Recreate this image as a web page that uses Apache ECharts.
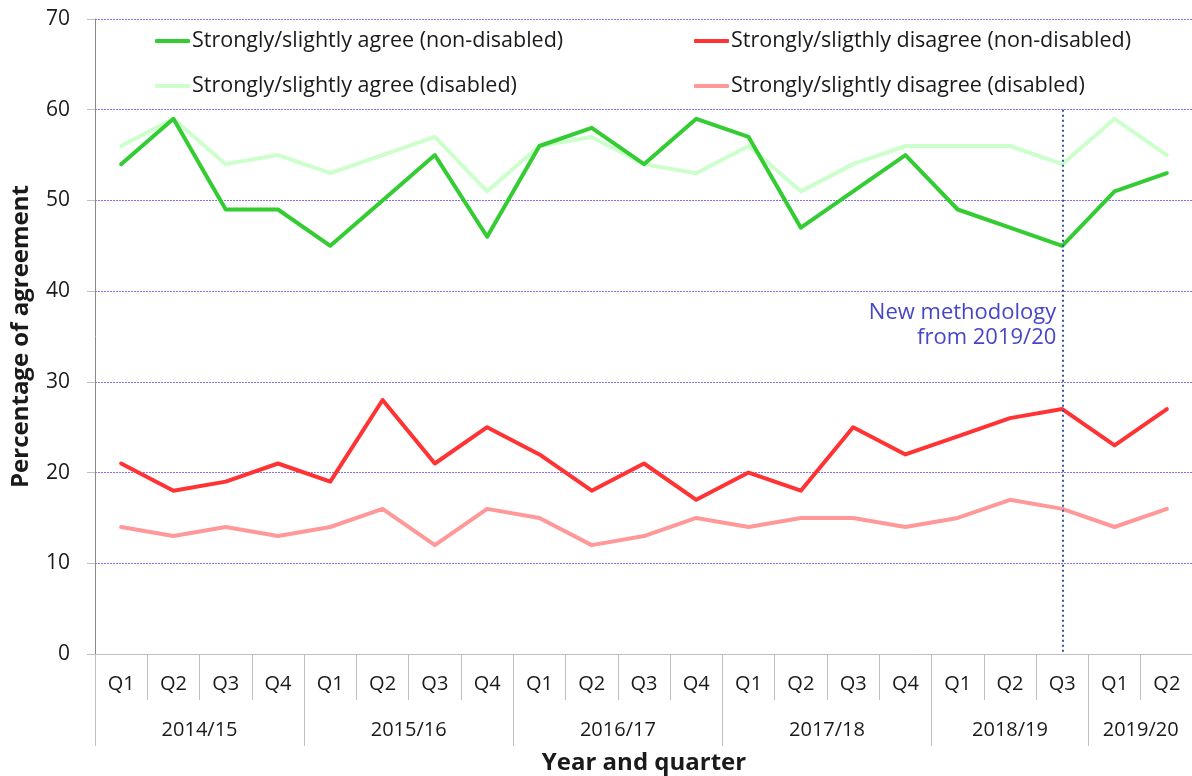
<!DOCTYPE html>
<html>
<head>
<meta charset="utf-8">
<script src="https://cdn.jsdelivr.net/npm/echarts@6/dist/echarts.min.js"></script>
<style>
  html, body { margin: 0; padding: 0; background: #ffffff; }
  #chart { width: 1192px; height: 776px; }
</style>
</head>
<body>
<div id="chart"></div>
<script>
// Financial years and the quarters reported in each
const years = ['2014/15', '2015/16', '2016/17', '2017/18', '2018/19', '2019/20'];
const quartersPerYear = [4, 4, 4, 4, 3, 2];

// Category keys: "year quarter", one per point
const categories = [];
years.forEach((y, i) => {
  for (let q = 1; q <= quartersPerYear[i]; q++) categories.push(y + ' Q' + q);
});

// Percentages of agreement
const agreeNonDisabled    = [54, 59, 49, 49, 45, 50, 55, 46, 56, 58, 54, 59, 57, 47, 51, 55, 49, 47, 45, 51, 53];
const disagreeNonDisabled = [21, 18, 19, 21, 19, 28, 21, 25, 22, 18, 21, 17, 20, 18, 25, 22, 24, 26, 27, 23, 27];
const agreeDisabled       = [56, 59, 54, 55, 53, 55, 57, 51, 56, 57, 54, 53, 56, 51, 54, 56, 56, 56, 54, 59, 55];
const disagreeDisabled    = [14, 13, 14, 13, 14, 16, 12, 16, 15, 12, 13, 15, 14, 15, 15, 14, 15, 17, 16, 14, 16];

const seriesNames = [
  'Strongly/slightly agree (non-disabled)',
  'Strongly/sligthly disagree (non-disabled)',
  'Strongly/slightly agree (disabled)',
  'Strongly/slightly disagree (disabled)'
];

// Methodology change marker
const methodologyIndex = 18;
const methodologyTop = 60;
const methodologyLabelValue = 36.2;
const methodologyText = 'New methodology\nfrom 2019/20';

// Year-group boundaries and centres on the index scale
const yearBounds = [0];
quartersPerYear.forEach(n => yearBounds.push(yearBounds[yearBounds.length - 1] + n));
const yearCentres = years.map((_, i) => (yearBounds[i] + yearBounds[i + 1]) / 2);

const FONT = '"Open Sans"';
const TEXT = '#1a1a1a';
const AXIS_GREY = '#bfbfbf';

const chart = echarts.init(document.getElementById('chart'), null, { renderer: 'canvas' });

function lineSeries(name, data, color, extra) {
  return Object.assign({
    name: name,
    type: 'line',
    data: data,
    symbol: 'none',
    smooth: false,
    lineStyle: { color: color, width: 4, cap: 'round', join: 'round' },
    itemStyle: { color: color },
    emphasis: { disabled: true },
    animation: false
  }, extra || {});
}

const legendCommon = {
  orient: 'vertical',
  icon: 'roundRect',
  itemWidth: 35,
  itemHeight: 4,
  itemGap: 21,
  textStyle: { fontFamily: FONT, fontSize: 21.5, color: TEXT, lineHeight: 24, padding: [0, 0, 0, -3] },
  selectedMode: false,
  padding: 0
};

chart.setOption({
  backgroundColor: '#ffffff',
  textStyle: { fontFamily: FONT },
  grid: { left: 95, top: 19, width: 1098, bottom: 122, containLabel: false, outerBoundsMode: 'none' },
  legend: [
    Object.assign({ left: 155, top: 29, data: [seriesNames[0], seriesNames[2]] }, legendCommon),
    Object.assign({ left: 694, top: 29, data: [seriesNames[1], seriesNames[3]] }, legendCommon)
  ],
  xAxis: [
    {
      type: 'category',
      data: categories,
      boundaryGap: true,
      axisLine: { show: true, lineStyle: { color: AXIS_GREY, width: 1 } },
      axisTick: { show: true, interval: 0, length: 46, lineStyle: { color: AXIS_GREY } },
      axisLabel: {
        interval: 0,
        margin: 20,
        fontFamily: FONT,
        fontSize: 20,
        color: TEXT,
        formatter: v => v.split(' ')[1]
      },
      splitLine: { show: false }
    },
    {
      type: 'value',
      position: 'bottom',
      min: 0,
      max: categories.length,
      axisLine: { show: false },
      axisTick: { show: true, customValues: yearBounds, length: 92, lineStyle: { color: AXIS_GREY } },
      axisLabel: {
        customValues: yearCentres,
        margin: 66,
        fontFamily: FONT,
        fontSize: 20,
        color: TEXT,
        formatter: v => {
          const i = yearCentres.indexOf(v);
          return i >= 0 ? years[i] : '';
        }
      },
      splitLine: { show: false },
      name: 'Year and quarter',
      nameLocation: 'middle',
      nameGap: 97,
      nameTextStyle: { fontFamily: FONT, fontSize: 24, fontWeight: 'bold', color: TEXT }
    }
  ],
  yAxis: {
    type: 'value',
    min: 0,
    max: 70,
    interval: 10,
    axisLine: { show: true, lineStyle: { color: '#888888' } },
    axisTick: { show: true, length: 8, lineStyle: { color: AXIS_GREY } },
    axisLabel: { margin: 25, fontFamily: FONT, fontSize: 21, color: TEXT },
    splitLine: { show: true, lineStyle: { color: '#8a6cf0', type: [2, 1], width: 1 } },
    name: 'Percentage of agreement',
    nameLocation: 'middle',
    nameRotate: 90,
    nameGap: 62,
    nameTextStyle: { fontFamily: FONT, fontSize: 24, fontWeight: 'bold', color: TEXT }
  },
  series: [
    lineSeries(seriesNames[2], agreeDisabled, '#ccffcc'),
    lineSeries(seriesNames[3], disagreeDisabled, '#ff9999'),
    lineSeries(seriesNames[0], agreeNonDisabled, '#33cc33'),
    lineSeries(seriesNames[1], disagreeNonDisabled, '#ff3333', {
      markLine: {
        silent: true,
        symbol: 'none',
        label: { show: false },
        lineStyle: { color: '#2f5b9a', type: [2, 3], width: 2 },
        data: [[
          { coord: [methodologyIndex, methodologyTop] },
          { coord: [methodologyIndex, 0] }
        ]]
      },
      markPoint: {
        silent: true,
        symbol: 'circle',
        symbolSize: 0,
        data: [{ coord: [methodologyIndex, methodologyLabelValue], value: methodologyText }],
        label: {
          show: true,
          position: 'left',
          distance: 6,
          align: 'right',
          formatter: methodologyText,
          fontFamily: FONT,
          fontSize: 22,
          lineHeight: 25,
          color: '#4646c8'
        }
      }
    })
  ]
});
</script>
</body>
</html>
